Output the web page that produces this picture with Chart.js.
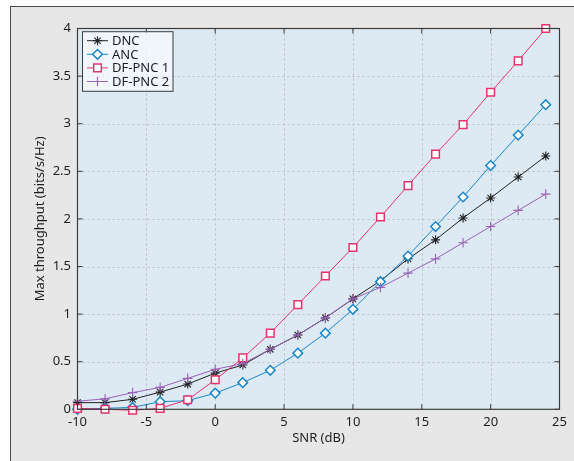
<!DOCTYPE html>
<html>
<head>
<meta charset="utf-8">
<script src="https://cdn.jsdelivr.net/npm/chart.js@4/dist/chart.umd.min.js"></script>
<style>
  html, body { margin: 0; padding: 0; background: #ffffff; }
  #frame { position: absolute; left: 10px; top: 6px; right: 0; bottom: 0;
           background: #e7e7e8; border-top: 1px solid #4a4a4a; border-left: 1px solid #4a4a4a; }
  #wrap { position: absolute; left: 0; top: 0; width: 574px; height: 461px; }
</style>
</head>
<body>
<div id="frame"></div>
<div id="wrap"><canvas id="c" width="574" height="461"></canvas></div>
<script>
const snr = [-10, -8, -6, -4, -2, 0, 2, 4, 6, 8, 10, 12, 14, 16, 18, 20, 22, 24];
const dnc    = [0.07, 0.07, 0.105, 0.18, 0.265, 0.38, 0.465, 0.63, 0.78, 0.96, 1.16, 1.35, 1.58, 1.78, 2.01, 2.22, 2.44, 2.66];
const anc    = [0.0, 0.01, 0.02, 0.08, 0.09, 0.17, 0.28, 0.41, 0.59, 0.80, 1.05, 1.34, 1.61, 1.92, 2.23, 2.56, 2.88, 3.20];
const dfpnc1 = [0.01, 0.0, -0.01, 0.01, 0.10, 0.31, 0.54, 0.80, 1.10, 1.40, 1.70, 2.02, 2.35, 2.68, 2.99, 3.33, 3.66, 4.0];
const dfpnc2 = [0.085, 0.11, 0.175, 0.23, 0.325, 0.42, 0.48, 0.63, 0.78, 0.96, 1.16, 1.28, 1.43, 1.58, 1.75, 1.92, 2.09, 2.26];
const seriesNames = ['DNC', 'ANC', 'DF-PNC 1', 'DF-PNC 2'];
const xTicks = [-10, -5, 0, 5, 10, 15, 20, 25];
const yTicks = [0, 0.5, 1, 1.5, 2, 2.5, 3, 3.5, 4];
const xTickLabels = ['-10', '-5', '0', '5', '10', '15', '20', '25'];
const yTickLabels = ['0', '0.5', '1', '1.5', '2', '2.5', '3', '3.5', '4'];
const xTitle = 'SNR (dB)';
const yTitle = 'Max throughput (bits/s/Hz)';

const FONT = '"Noto Sans", "Open Sans", sans-serif';
const colors = ['#222222', '#1a86c8', '#e6336d', '#9a62b4'];
const styles = ['star', 'rectRot', 'rect', 'cross'];
const radii = [4.5, 4.8, 5.4, 4.8];
const fills = ['#222222', '#ffffff', '#ffffff', '#9a62b4'];
const orders = [4, 3, 2, 1];
const values = [dnc, anc, dfpnc1, dfpnc2];

function pts(arr) { return snr.map((x, i) => ({ x: x, y: arr[i] })); }

const datasets = seriesNames.map((name, i) => ({
  label: name,
  data: pts(values[i]),
  borderColor: colors[i],
  backgroundColor: fills[i],
  borderWidth: 1,
  pointStyle: styles[i],
  pointRadius: radii[i],
  pointBorderWidth: (i === 1 || i === 2) ? 1.5 : 1.1,
  pointBorderColor: colors[i],
  pointBackgroundColor: fills[i],
  tension: 0,
  clip: false,
  order: orders[i]
}));

function drawMarker(ctx, style, x, y, r, stroke, fill, lw) {
  ctx.save();
  ctx.strokeStyle = stroke; ctx.fillStyle = fill; ctx.lineWidth = lw;
  ctx.beginPath();
  if (style === 'rect') {
    const s = Math.SQRT1_2 * r;
    ctx.rect(x - s, y - s, 2 * s, 2 * s);
    ctx.fill(); ctx.stroke();
  } else if (style === 'rectRot') {
    ctx.moveTo(x, y - r); ctx.lineTo(x + r, y); ctx.lineTo(x, y + r); ctx.lineTo(x - r, y); ctx.closePath();
    ctx.fill(); ctx.stroke();
  } else if (style === 'cross') {
    ctx.moveTo(x - r, y); ctx.lineTo(x + r, y); ctx.moveTo(x, y - r); ctx.lineTo(x, y + r);
    ctx.stroke();
  } else if (style === 'star') {
    ctx.moveTo(x - r, y); ctx.lineTo(x + r, y); ctx.moveTo(x, y - r); ctx.lineTo(x, y + r);
    const d = r * Math.SQRT1_2;
    ctx.moveTo(x - d, y - d); ctx.lineTo(x + d, y + d); ctx.moveTo(x - d, y + d); ctx.lineTo(x + d, y - d);
    ctx.stroke();
  }
  ctx.restore();
}

const framePlugin = {
  id: 'frame',
  beforeDatasetsDraw(chart) {
    const { ctx, chartArea: a, scales } = chart;
    const xs = scales.x, ys = scales.y;
    ctx.save();
    ctx.fillStyle = '#ddeaf4';
    ctx.fillRect(a.left, a.top, a.right - a.left, a.bottom - a.top);
    ctx.strokeStyle = '#b9bcc0';
    ctx.lineWidth = 1;
    ctx.setLineDash([2, 3]);
    xTicks.forEach(v => {
      const px = Math.round(xs.getPixelForValue(v)) + 0.5;
      if (px <= a.left + 1 || px >= a.right - 1) return;
      ctx.beginPath(); ctx.moveTo(px, a.top); ctx.lineTo(px, a.bottom); ctx.stroke();
    });
    yTicks.forEach(v => {
      const py = Math.round(ys.getPixelForValue(v)) + 0.5;
      if (py <= a.top + 1 || py >= a.bottom - 1) return;
      ctx.beginPath(); ctx.moveTo(a.left, py); ctx.lineTo(a.right, py); ctx.stroke();
    });
    ctx.setLineDash([]);
    ctx.restore();
  },
  afterDatasetsDraw(chart) {
    const { ctx, chartArea: a, scales } = chart;
    const xs = scales.x, ys = scales.y;
    ctx.save();
    ctx.strokeStyle = '#3c3c3c';
    ctx.lineWidth = 1.2;
    ctx.strokeRect(a.left, a.top, a.right - a.left, a.bottom - a.top);
    const tl = 5;
    ctx.lineWidth = 1;
    ctx.beginPath();
    xTicks.forEach(v => {
      const px = xs.getPixelForValue(v);
      ctx.moveTo(px, a.bottom); ctx.lineTo(px, a.bottom - tl);
      ctx.moveTo(px, a.top); ctx.lineTo(px, a.top + tl);
    });
    yTicks.forEach(v => {
      const py = ys.getPixelForValue(v);
      ctx.moveTo(a.left, py); ctx.lineTo(a.left + tl, py);
      ctx.moveTo(a.right, py); ctx.lineTo(a.right - tl, py);
    });
    ctx.stroke();

    const lx = a.left + 5, ly = a.top + 3.2, lw = 90.5, lh = 59.6;
    ctx.fillStyle = 'rgba(246,250,253,0.75)';
    ctx.fillRect(lx, ly, lw, lh);
    ctx.strokeStyle = '#3c3c3c';
    ctx.lineWidth = 1;
    ctx.strokeRect(lx, ly, lw, lh);
    ctx.font = '13px ' + FONT;
    ctx.textBaseline = 'middle';
    ctx.textAlign = 'left';
    seriesNames.forEach((name, i) => {
      const ry = ly + 9 + i * 13.6;
      ctx.strokeStyle = colors[i];
      ctx.lineWidth = 1;
      ctx.beginPath(); ctx.moveTo(lx + 4.5, ry); ctx.lineTo(lx + 25.5, ry); ctx.stroke();
      drawMarker(ctx, styles[i], lx + 15, ry, radii[i], colors[i], fills[i], (i === 1 || i === 2) ? 1.5 : 1.1);
      ctx.fillStyle = '#1e1e1e';
      ctx.fillText(name, lx + 29.5, ry + 0.5);
    });
    ctx.restore();
  }
};

new Chart(document.getElementById('c'), {
  type: 'line',
  data: { datasets: datasets },
  options: {
    responsive: false,
    animation: false,
    devicePixelRatio: 1,
    layout: { padding: { left: 0, right: 14.5, top: 28.5, bottom: 0 } },
    plugins: { legend: { display: false }, tooltip: { enabled: false } },
    scales: {
      x: {
        type: 'linear', min: -10, max: 25,
        afterBuildTicks: s => { s.ticks = xTicks.map(v => ({ value: v })); },
        afterFit: s => { s.height = 51.7; },
        grid: { display: false, drawTicks: false },
        border: { display: false },
        ticks: { padding: 5, color: '#1e1e1e', font: { family: FONT, size: 13 }, maxRotation: 0, autoSkip: false,
                 callback: (v) => { const k = xTicks.indexOf(v); return k >= 0 ? xTickLabels[k] : ''; } },
        title: { display: true, text: xTitle, color: '#1e1e1e', font: { family: FONT, size: 13 }, padding: { top: 0, bottom: 15.2 } }
      },
      y: {
        type: 'linear', min: 0, max: 4,
        afterBuildTicks: s => { s.ticks = yTicks.map(v => ({ value: v })); },
        afterFit: s => { s.width = 77.5; },
        grid: { display: false, drawTicks: false },
        border: { display: false },
        ticks: { padding: 6.5, color: '#1e1e1e', font: { family: FONT, size: 13 }, autoSkip: false,
                 callback: (v) => { const k = yTicks.indexOf(v); return k >= 0 ? yTickLabels[k] : ''; } },
        title: { display: true, text: yTitle, color: '#1e1e1e', font: { family: FONT, size: 13 }, padding: { top: 32.2, bottom: 0 } }
      }
    }
  },
  plugins: [framePlugin]
});
</script>
</body>
</html>
